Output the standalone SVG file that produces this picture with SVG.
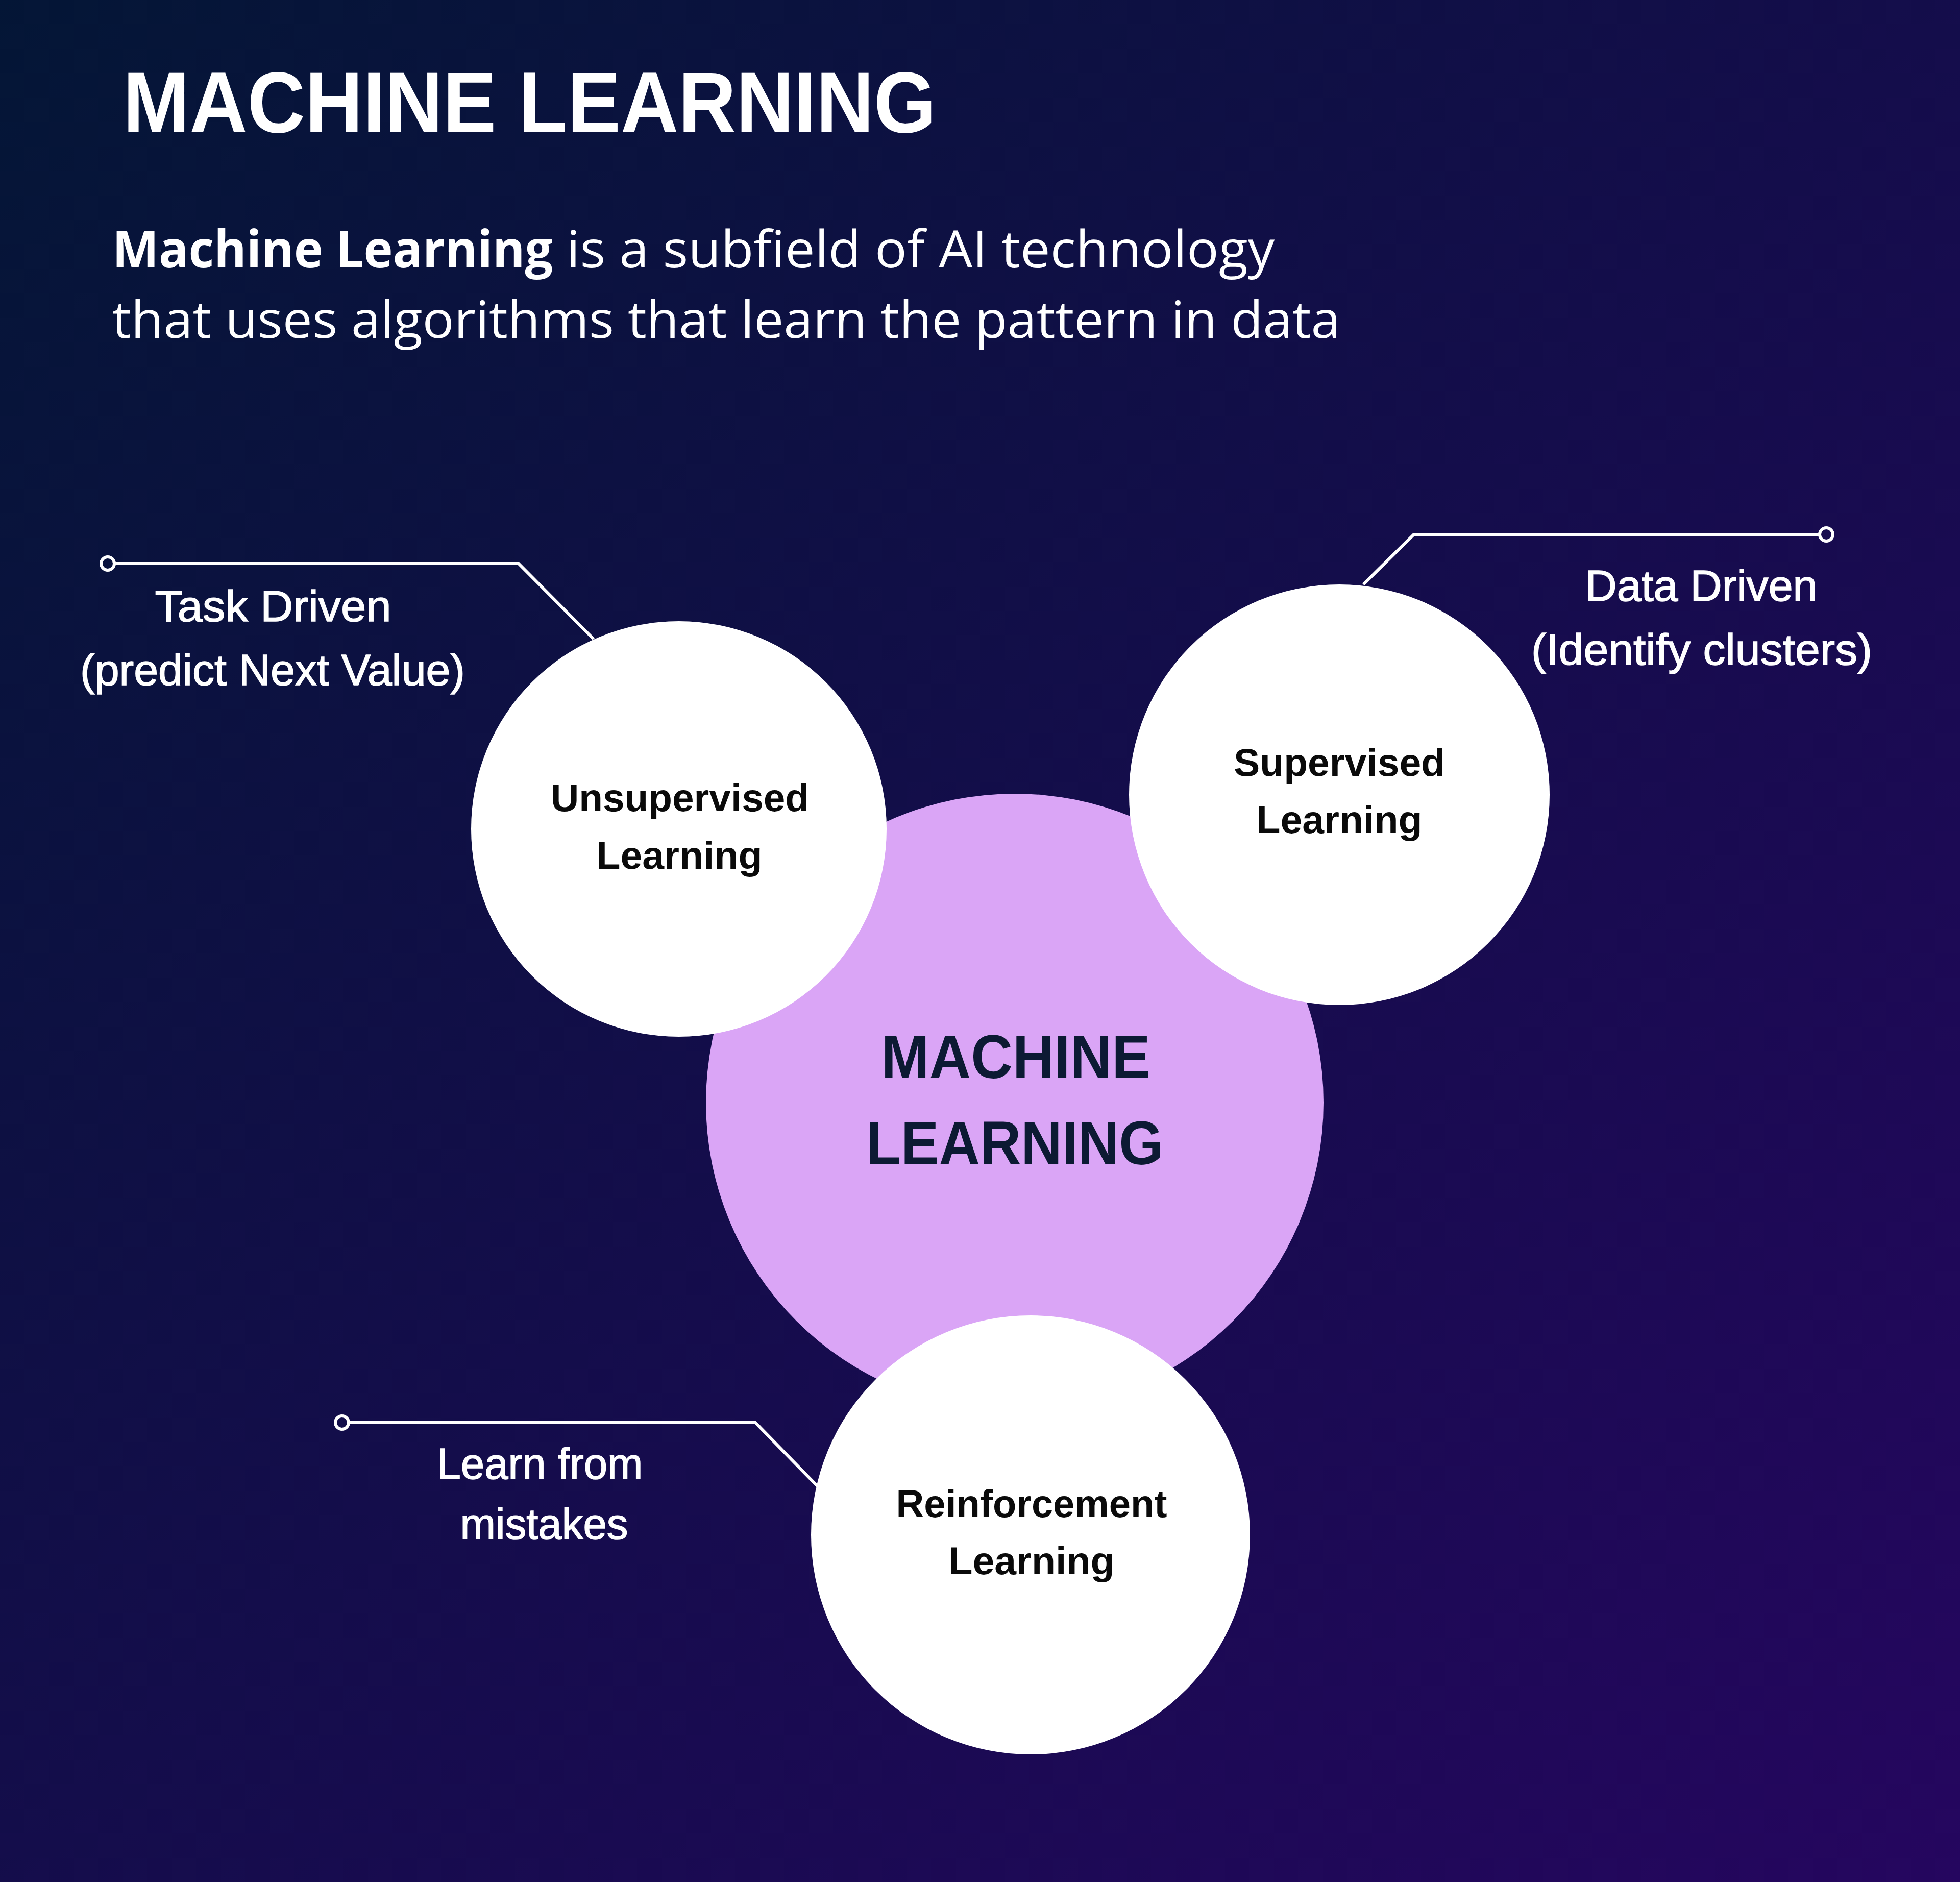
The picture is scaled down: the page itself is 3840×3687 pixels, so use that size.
<svg xmlns="http://www.w3.org/2000/svg" width="3840" height="3687" viewBox="0 0 3840 3687">
<defs>
<linearGradient id="bg" x1="0" y1="0" x2="1" y2="1">
<stop offset="0" stop-color="#041636"/>
<stop offset="0.5" stop-color="#140d4b"/>
<stop offset="1" stop-color="#25065f"/>
</linearGradient>
<style>
.title{font-family:"Liberation Sans",Arial,sans-serif;font-weight:700;font-size:168px;fill:#ffffff}
.sub{font-family:"Open Sans","Liberation Sans",sans-serif;font-size:100px;fill:#ffffff}
.subb{font-weight:700}
.lead{font-family:"Liberation Sans",Arial,sans-serif;font-size:86px;fill:#ffffff;stroke:#ffffff;stroke-width:1.5;text-anchor:middle}
.node{font-family:"Liberation Sans",Arial,sans-serif;font-weight:700;font-size:76px;fill:#0a0a0a;text-anchor:middle}
.core{font-family:"Liberation Sans",Arial,sans-serif;font-weight:700;font-size:120px;fill:#0c1a33;text-anchor:middle}
.wire{fill:none;stroke:#ffffff;stroke-width:6;stroke-linejoin:miter}
.dot{fill:none;stroke:#ffffff;stroke-width:6}
.white{fill:#ffffff}
</style>
</defs>
<rect x="0" y="0" width="3840" height="3687" fill="url(#bg)"/>
<g id="header">
<text class="title" x="241" y="259" textLength="1593" lengthAdjust="spacingAndGlyphs">MACHINE LEARNING</text>
<text class="sub subb" x="220" y="524" textLength="863" lengthAdjust="spacingAndGlyphs">Machine Learning</text>
<text class="sub" x="1110" y="524" textLength="1387" lengthAdjust="spacingAndGlyphs">is a subfield of AI technology</text>
<text class="sub" x="220" y="662" textLength="2406" lengthAdjust="spacingAndGlyphs">that uses algorithms that learn the pattern in data</text>
</g>
<g id="connectors">
<path class="wire" d="M224 1104 H1016 L1163 1252"/>
<circle class="dot" cx="211" cy="1104" r="13"/>
<path class="wire" d="M3565 1047 H2770 L2671 1145"/>
<circle class="dot" cx="3578" cy="1047" r="13"/>
<path class="wire" d="M683 2787 H1480 L1602 2912"/>
<circle class="dot" cx="670" cy="2787" r="13"/>
</g>
<g id="label-task">
<text class="lead" x="535" y="1217" textLength="463" lengthAdjust="spacingAndGlyphs">Task Driven</text>
<text class="lead" x="534" y="1342" textLength="754" lengthAdjust="spacingAndGlyphs">(predict Next Value)</text>
</g>
<g id="label-data">
<text class="lead" x="3333" y="1177" textLength="455" lengthAdjust="spacingAndGlyphs">Data Driven</text>
<text class="lead" x="3334" y="1302" textLength="668" lengthAdjust="spacingAndGlyphs">(Identify clusters)</text>
</g>
<g id="label-mistakes">
<text class="lead" x="1058" y="2897" textLength="403" lengthAdjust="spacingAndGlyphs">Learn from</text>
<text class="lead" x="1066" y="3015" textLength="329" lengthAdjust="spacingAndGlyphs">mistakes</text>
</g>
<g id="node-core">
<circle cx="1988" cy="2160" r="605" fill="#daa5f6"/>
<text class="core" x="1990" y="2112" textLength="527" lengthAdjust="spacingAndGlyphs">MACHINE</text>
<text class="core" x="1988" y="2281" textLength="582" lengthAdjust="spacingAndGlyphs">LEARNING</text>
</g>
<g id="node-unsupervised">
<circle class="white" cx="1330" cy="1624" r="407"/>
<text class="node" x="1332" y="1589" textLength="506" lengthAdjust="spacingAndGlyphs">Unsupervised</text>
<text class="node" x="1331" y="1702" textLength="325" lengthAdjust="spacingAndGlyphs">Learning</text>
</g>
<g id="node-supervised">
<circle class="white" cx="2624" cy="1557" r="412"/>
<text class="node" x="2624" y="1520" textLength="414" lengthAdjust="spacingAndGlyphs">Supervised</text>
<text class="node" x="2624" y="1632" textLength="325" lengthAdjust="spacingAndGlyphs">Learning</text>
</g>
<g id="node-reinforcement">
<circle class="white" cx="2019" cy="3007" r="430"/>
<text class="node" x="2021" y="2972" textLength="531" lengthAdjust="spacingAndGlyphs">Reinforcement</text>
<text class="node" x="2021" y="3084" textLength="325" lengthAdjust="spacingAndGlyphs">Learning</text>
</g>
</svg>
